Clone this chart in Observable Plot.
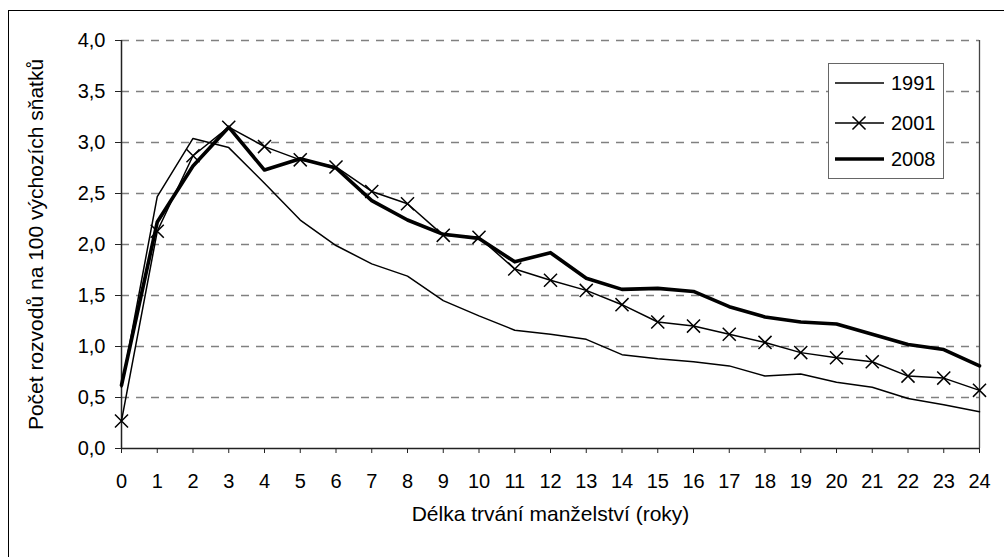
<!DOCTYPE html>
<html><head><meta charset="utf-8">
<script src="https://cdn.jsdelivr.net/npm/d3@7"></script>
<script src="https://cdn.jsdelivr.net/npm/@observablehq/plot@0.6"></script>
<style>
body{margin:0;overflow:hidden;background:#fff;font-family:"Liberation Sans",Arial,sans-serif;}
#wrap{position:relative;width:1004px;height:557px;overflow:hidden;}
#frame{position:absolute;left:8px;top:10px;width:1100px;height:700px;border-left:1.5px solid #000;border-top:1.5px solid #000;z-index:2;pointer-events:none;}
#legend{position:absolute;left:828px;top:63px;width:114px;height:114px;border:1px solid #666;background:#fff;z-index:3;}
#legend svg{display:block;}
</style></head><body>
<div id="wrap"><div id="frame"></div><div id="legend"></div></div>
<script>
const years = [0,1,2,3,4,5,6,7,8,9,10,11,12,13,14,15,16,17,18,19,20,21,22,23,24];
const v1991 = [0.60,2.47,3.04,2.95,2.60,2.24,1.99,1.81,1.69,1.45,1.30,1.16,1.12,1.07,0.92,0.88,0.85,0.81,0.71,0.73,0.65,0.60,0.49,0.43,0.36];
const v2001 = [0.27,2.13,2.87,3.15,2.96,2.83,2.76,2.52,2.40,2.09,2.07,1.76,1.65,1.55,1.41,1.24,1.20,1.12,1.04,0.94,0.89,0.85,0.71,0.69,0.57];
const v2008 = [0.62,2.22,2.77,3.15,2.73,2.84,2.75,2.43,2.24,2.10,2.06,1.83,1.92,1.67,1.56,1.57,1.54,1.39,1.29,1.24,1.22,1.12,1.02,0.97,0.81];
const seriesNames = ["1991","2001","2008"];
const yTicks = [0,0.5,1,1.5,2,2.5,3,3.5,4];
const xTitle = "Délka trvání manželství (roky)";
const yTitle = "Počet rozvodů na 100 výchozích sňatků";

const data = years.map((yr,i)=>({yr, a:v1991[i], b:v2001[i], c:v2008[i]}));
const fmt = d => d.toFixed(1).replace(".", ",");
const FONT = '"Liberation Sans", Arial, sans-serif';

const chart = Plot.plot({
  width: 1004, height: 557,
  marginLeft: 121, marginRight: 25, marginTop: 40, marginBottom: 109,
  style: {fontSize: "20px", fontFamily: FONT, background: "transparent", color: "#000"},
  x: {type: "linear", domain: [0,24]},
  y: {domain: [0,4]},
  marks: [
    Plot.ruleY(yTicks.filter(d=>d>0), {stroke:"#808080", strokeWidth:1.3, strokeDasharray:"8,7"}),
    Plot.ruleX([24], {stroke:"#444", strokeWidth:1.3}),
    Plot.ruleX([0], {stroke:"#222", strokeWidth:1.5}),
    Plot.ruleY([0], {stroke:"#222", strokeWidth:1.5}),
    Plot.axisX({ticks: years, tickFormat: d=>String(d), tickSize: 5, tickPadding: 20, label: null, stroke:"#222"}),
    Plot.axisY({ticks: yTicks, tickFormat: fmt, tickSize: 6, tickPadding: 10, label: null, stroke:"#222"}),
    Plot.lineY(data, {x:"yr", y:"a", stroke:"#000", strokeWidth:1.5}),
    Plot.lineY(data, {x:"yr", y:"b", stroke:"#000", strokeWidth:1.5}),
    Plot.dot(data, {x:"yr", y:"b", symbol:"times", r:6, stroke:"#000", strokeWidth:1.5}),
    Plot.lineY(data, {x:"yr", y:"c", stroke:"#000", strokeWidth:3.6}),
    Plot.text([xTitle], {frameAnchor:"bottom", dy:72, fontSize:21, fill:"#000"}),
    Plot.text([yTitle], {frameAnchor:"left", textAnchor:"middle", dx:-85, rotate:-90, fontSize:21, fill:"#000"})
  ]
});
document.getElementById("wrap").appendChild(chart);

// legend
const lg = d3.select("#legend").append("svg").attr("width",114).attr("height",114);
const rowsY = [19, 59, 95];
const widths = [1.5, 1.5, 3.6];
seriesNames.forEach((name,i)=>{
  const y = rowsY[i];
  lg.append("line").attr("x1",6).attr("x2",55).attr("y1",y).attr("y2",y).attr("stroke","#000").attr("stroke-width",widths[i]);
  if (i===1) {
    lg.append("path").attr("d",d3.symbol(d3.symbolTimes, Math.PI*36)()).attr("transform",`translate(30,${y})`).attr("stroke","#000").attr("stroke-width",1.5).attr("fill","none");
  }
  lg.append("text").attr("x",62).attr("y",y).attr("dy","0.35em").attr("font-size",20).attr("font-family",FONT).text(name);
});
</script>
</body></html>
